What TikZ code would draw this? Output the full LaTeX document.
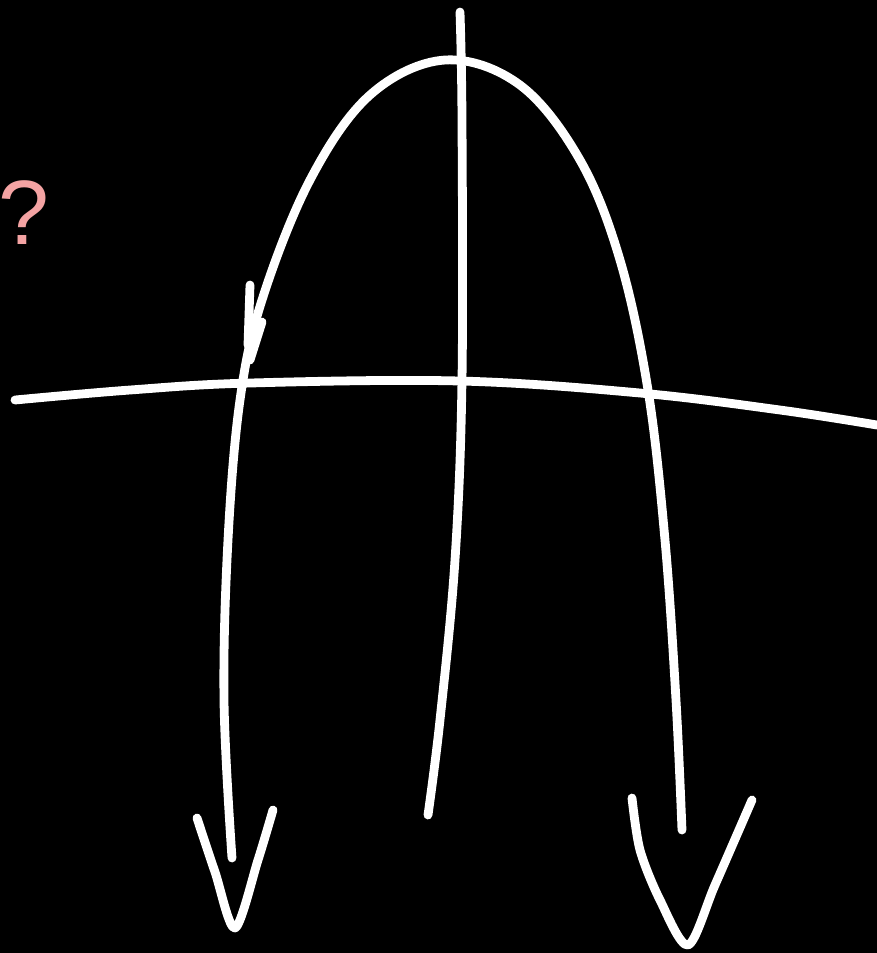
\documentclass[tikz,border=0pt]{standalone}
\usepackage{fontspec}
\setmainfont{Liberation Sans}
\definecolor{chalk}{HTML}{FFFFFF}
\definecolor{pinkmark}{HTML}{F4A3A3}

\begin{document}
\begin{tikzpicture}[
  x=0.01cm,y=-0.01cm,
  stroke/.style={draw=chalk,line width=2.5pt,line cap=round,line join=round},
  query/.style={text=pinkmark,font=\fontsize{26}{31}\selectfont,inner sep=0pt}
]
\fill[black] (0,0) rectangle (877,953);
\useasboundingbox (0,0) rectangle (877,953);

% axes
\draw[stroke] plot[smooth,tension=0.6] coordinates
  {(460,12) (462,120) (462,380) (455,560) (440,720) (428,815)};
\draw[stroke] plot[smooth,tension=0.6] coordinates
  {(15,400) (130,390) (250,383) (460,381) (640,393) (780,410) (877,425)};

% the curve
\draw[stroke] plot[smooth,tension=0.6] coordinates
  {(232,858) (224,700) (228,540) (240,400) (262,300) (310,180) (370,95)
   (445,60) (520,85) (580,160) (620,260) (648,390) (665,540) (676,700) (682,830)};
\draw[stroke] (250,285) -- (248,345);
\draw[stroke] (262,322) -- (250,360);

% arrow heads
\draw[stroke] plot[smooth,tension=0.5] coordinates
  {(197,818) (215,872) (235,928) (258,860) (273,810)};
\draw[stroke] plot[smooth,tension=0.5] coordinates
  {(632,798) (640,850) (660,900) (688,945) (715,885) (752,800)};

\node[query] (mark) at (24,213) {?};
\end{tikzpicture}
\end{document}
